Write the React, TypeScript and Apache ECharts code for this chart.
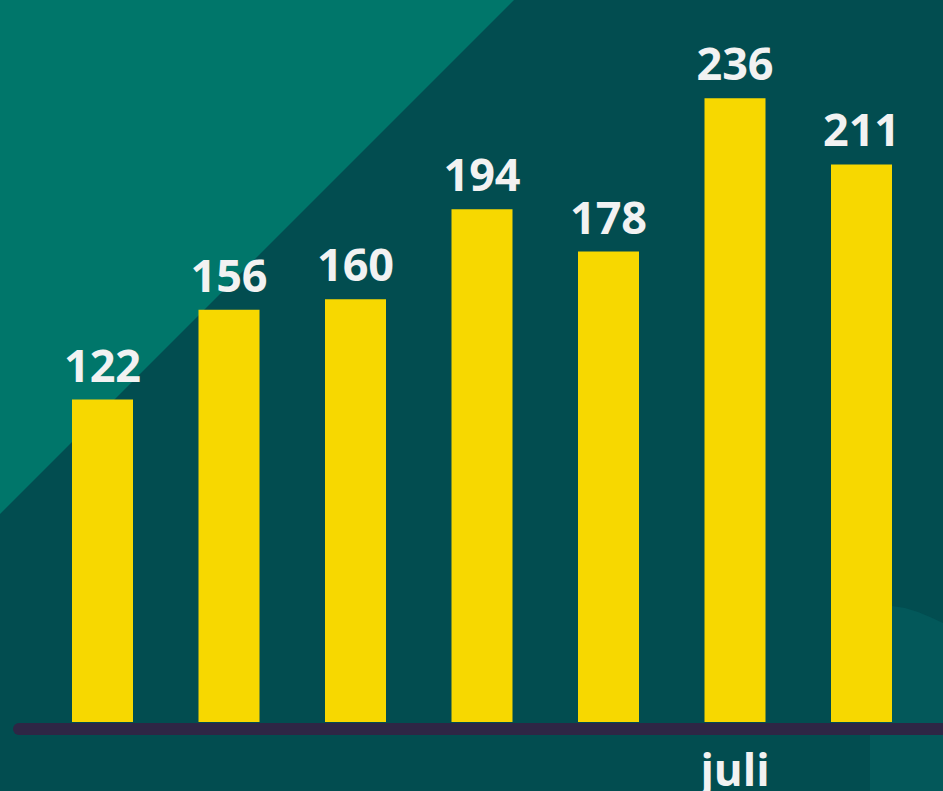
import React, { useEffect, useRef } from "react";
import * as echarts from "echarts";

const categories = ["1", "2", "3", "4", "5", "juli", "7"];
const axisLabels = ["", "", "", "", "", "juli", ""];
const values = [122, 156, 160, 194, 178, 236, 211];

export default function App() {
  const ref = useRef<HTMLDivElement>(null);
  useEffect(() => {
    if (!ref.current) return;
    const chart = echarts.init(ref.current, null, { renderer: "svg" });
    chart.setOption({
      animation: false,
      backgroundColor: "#024d50",
      grid: { left: 39.25, right: 18.25, top: 61.33, bottom: 63, containLabel: false },
      xAxis: {
        type: "category",
        data: categories,
        axisLine: { show: false },
        axisTick: { show: false },
        axisLabel: {
          interval: 0,
          margin: 25,
          color: "#f2f2f2",
          fontSize: 44,
          fontWeight: "bold",
          fontFamily: "Open Sans",
          formatter: (_v: string, i: number) => axisLabels[i],
        },
      },
      yAxis: {
        type: "value",
        min: 0,
        max: 250,
        show: false,
        splitLine: { show: false },
      },
      graphic: [
        {
          type: "polygon",
          z: -10,
          shape: { points: [[0, 0], [514, 0], [0, 514]] },
          style: { fill: "#00766a" },
        },
        {
          type: "polygon",
          z: -9,
          shape: {
            points: [
              [880, 605], [892, 606], [905, 608], [918, 612], [930, 617], [943, 623],
              [943, 791], [870, 791], [870, 735], [880, 735],
            ],
          },
          style: { fill: "#03585a" },
        },
        {
          type: "line",
          z: 100,
          shape: { x1: 19, y1: 729, x2: 960, y2: 729 },
          style: { stroke: "#2e2645", lineWidth: 12, lineCap: "round" },
        },
      ],
      series: [
        {
          type: "bar",
          data: values,
          barWidth: 61,
          itemStyle: { color: "#f7d800" },
          label: {
            show: true,
            position: "top",
            distance: 13,
            color: "#f2f2f2",
            fontSize: 45,
            fontWeight: "bold",
            fontFamily: "Open Sans",
          },
        },
      ],
    });
    return () => chart.dispose();
  }, []);
  return <div ref={ref} style={{ width: 943, height: 791, position: "fixed", left: 0, top: 0 }} />;
}
